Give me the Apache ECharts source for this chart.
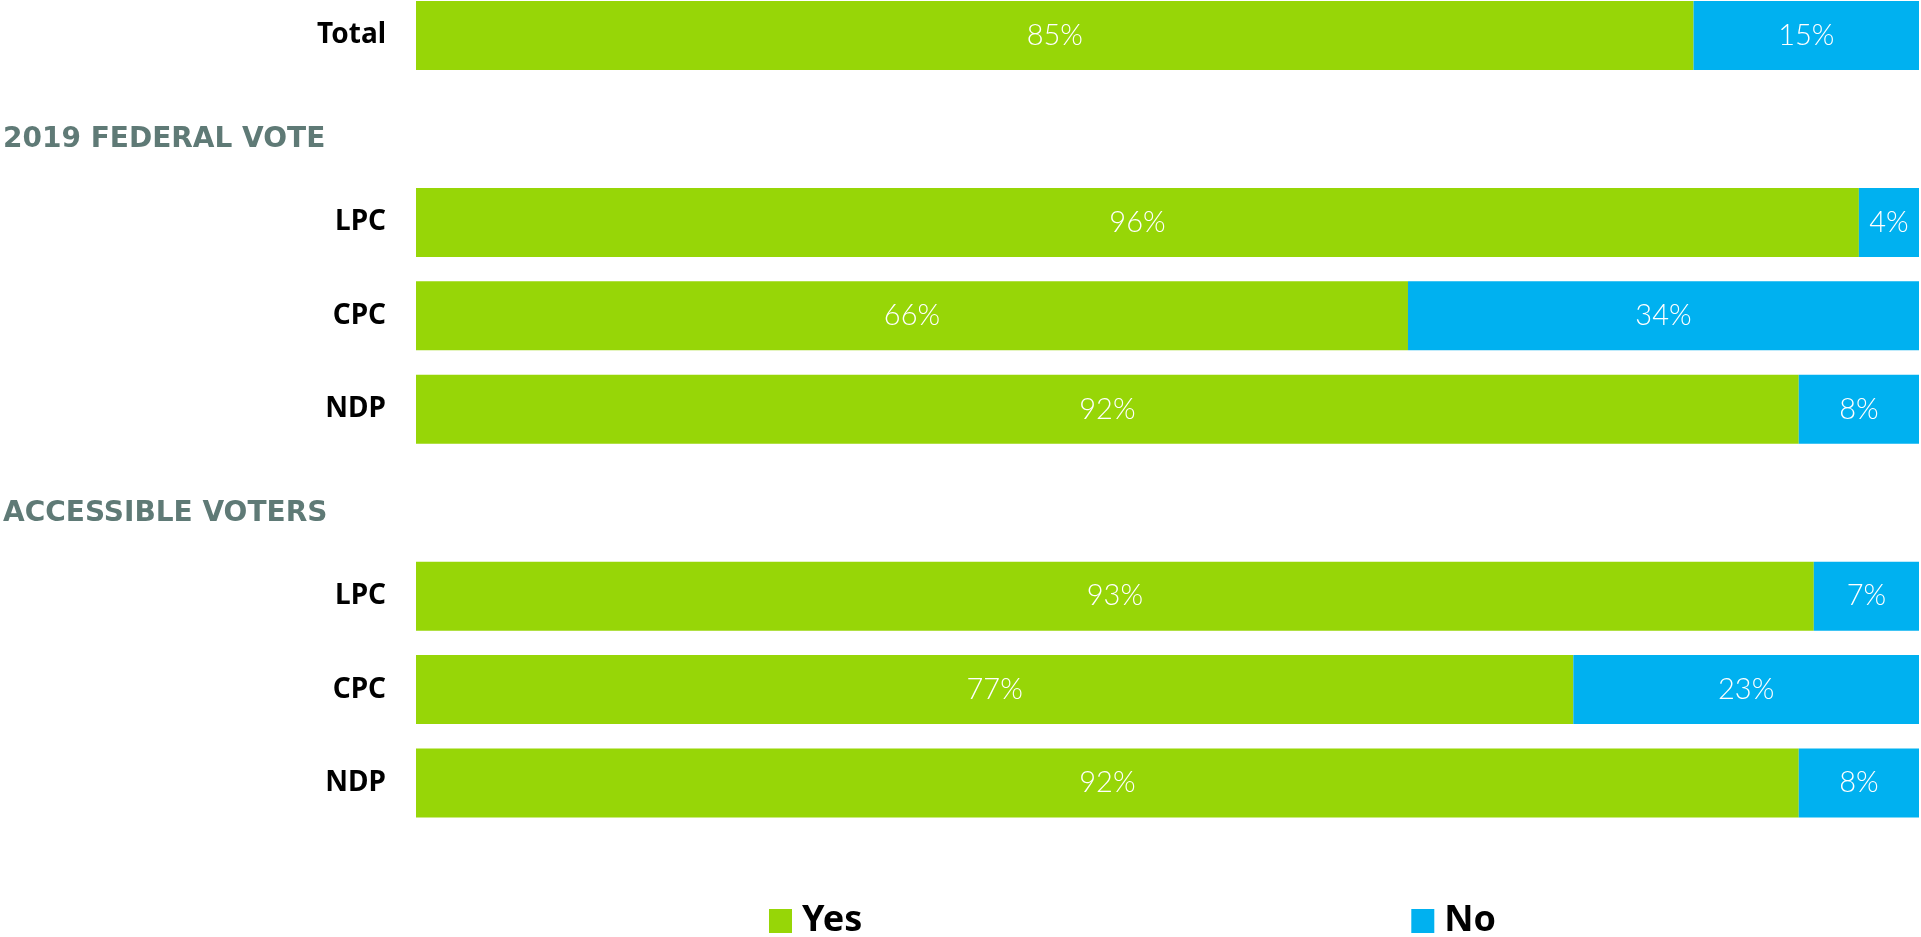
<!DOCTYPE html>
<html>
<head>
<meta charset="utf-8">
<script src="https://cdn.jsdelivr.net/npm/echarts@6/dist/echarts.min.js"></script>
<style>
html,body{margin:0;padding:0;background:#fff;}
#chart{width:1921px;height:937px;}
</style>
</head>
<body>
<div id="chart"></div>
<script>
const categories = ['Total', '2019 FEDERAL VOTE', 'LPC', 'CPC', 'NDP', 'ACCESSIBLE VOTERS', 'LPC', 'CPC', 'NDP'];
const headerRows = [1, 5];
const yesValues = [85, null, 96, 66, 92, null, 93, 77, 92];
const noValues = [15, null, 4, 34, 8, null, 7, 23, 8];
const seriesNames = ['Yes', 'No'];

const chart = echarts.init(document.getElementById('chart'));
const valueLabel = {
  show: true,
  position: 'inside',
  color: '#ffffff',
  fontFamily: 'Lato',
  fontWeight: 300,
  fontSize: 29,
  formatter: p => p.value == null ? '' : p.value + '%'
};
chart.setOption({
  animation: false,
  backgroundColor: '#ffffff',
  legend: {
    data: seriesNames,
    left: 764,
    top: 898,
    icon: 'rect',
    itemWidth: 23,
    itemHeight: 24,
    itemGap: 549,
    textStyle: { fontFamily: 'Noto Sans', fontWeight: 'bold', fontSize: 36, color: '#000', padding: [0, 0, 0, 5] }
  },
  grid: { left: 413, right: 2, top: 35.5, height: 747.5, containLabel: false },
  xAxis: { type: 'value', min: 0, max: 100, show: false },
  yAxis: {
    type: 'category',
    inverse: true,
    boundaryGap: false,
    data: categories,
    axisLine: { show: false },
    axisTick: { show: false },
    splitLine: { show: false },
    axisLabel: {
      margin: 30,
      fontFamily: 'Noto Sans',
      fontWeight: 'bold',
      fontSize: 28,
      color: '#000',
      formatter: (v, i) => headerRows.indexOf(i) >= 0 ? '{h|' + v + '}' : v,
      rich: {
        h: { width: 383, align: 'left', color: '#5f7a76', fontFamily: 'DejaVu Sans', fontWeight: 'bold', fontSize: 28, padding: [22, 0, 0, 0] }
      }
    }
  },
  series: [
    { name: seriesNames[0], type: 'bar', stack: 's', barWidth: 69, data: yesValues, itemStyle: { color: '#97d607' }, label: valueLabel },
    { name: seriesNames[1], type: 'bar', stack: 's', barWidth: 69, data: noValues, itemStyle: { color: '#00b1f0' }, label: valueLabel }
  ]
});
</script>
</body>
</html>
